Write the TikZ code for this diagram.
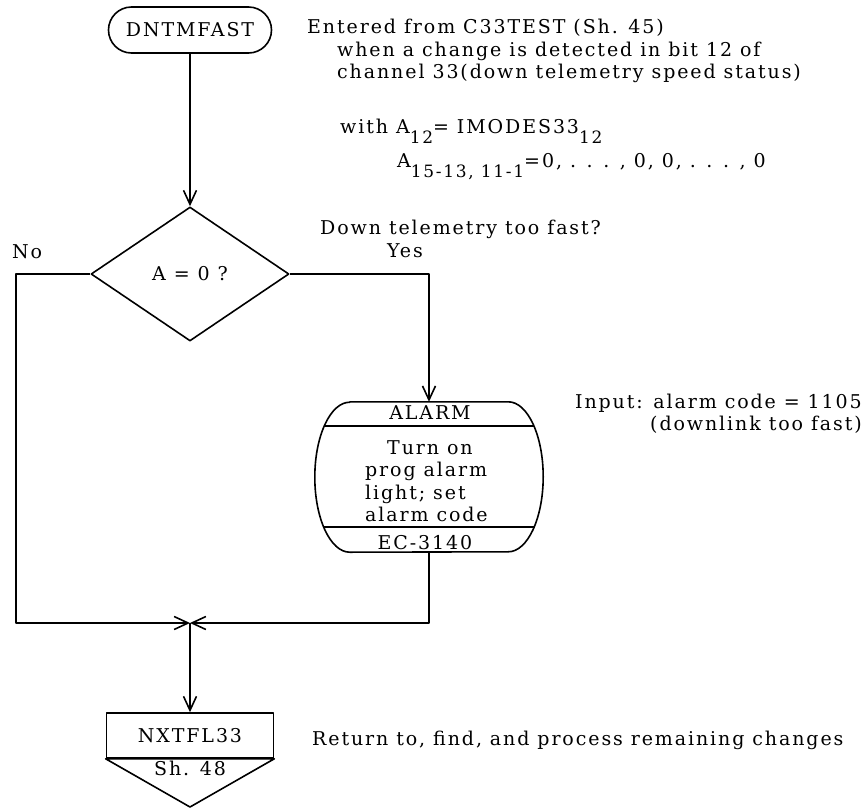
\documentclass[tikz,border=0pt]{standalone}
\usepackage{fontspec}
\setmainfont{DejaVu Serif}[LetterSpace=10]
\usetikzlibrary{arrows.meta,shapes.geometric,shapes.misc}

% lowered subscript set nearly at full size, as in the typed original
\newcommand\lowsub[1]{\raisebox{-10pt}{\fontsize{17}{17}\selectfont #1}}

\tikzset{
  every node/.style={font=\fontsize{19}{22.5}\selectfont, inner sep=0pt},
  line/.style={line width=1.6pt},
  arr/.style={line, -{Straight Barb[length=14pt,width=13pt]}},
  txt/.style={anchor=base west},
  txtr/.style={anchor=base east},
}

\begin{document}
\begin{tikzpicture}[x=1pt,y=1pt,line join=round]
\useasboundingbox[fill=white] (0,0) rectangle (868,-809);

% ---- flowchart boxes ----
\node[draw, line, rounded rectangle, minimum width=163, minimum height=46] (start) at (190,-30) {DNTMFAST};
\node[draw, line, diamond, minimum width=198, minimum height=134] (dec) at (190,-274) {A = 0 ?};

% alarm routine box: straight top and bottom with elliptical ends
\node[minimum width=228, minimum height=150] (alarm) at (429,-477) {};
\begin{scope}
  \clip ([xshift=35]alarm.north west) -- ([xshift=-35]alarm.north east)
        arc[start angle=90, end angle=-90, x radius=35, y radius=75]
        -- ([xshift=35]alarm.south west)
        arc[start angle=270, end angle=90, x radius=35, y radius=75] -- cycle;
  \draw[line] ([yshift=-24]alarm.north west) -- ([yshift=-24]alarm.north east);
  \draw[line] ([yshift=25]alarm.south west) -- ([yshift=25]alarm.south east);
\end{scope}
\draw[line] ([xshift=35]alarm.north west) -- ([xshift=-35]alarm.north east)
      arc[start angle=90, end angle=-90, x radius=35, y radius=75]
      -- ([xshift=35]alarm.south west)
      arc[start angle=270, end angle=90, x radius=35, y radius=75] -- cycle;
\node (alarmtitle) at (430,-413) {ALARM};
\node[anchor=north west, align=left] (alarmbody) at (365,-440)
  {\hspace*{22pt}Turn on\\prog alarm\\light; set\\alarm code};
\node (alarmref) at (425,-543) {EC-3140};

% off-page connector
\node[draw, line, minimum width=167, minimum height=45] (exit) at (190,-735.5) {NXTFL33};
\coordinate (exittip) at (190,-807);
\draw[line] (exit.south west) -- (exit.south east) -- (exittip) -- cycle;
\node (exitref) at (190,-768) {Sh. 48};

% ---- connectors ----
\coordinate (m) at (190,-623);
\coordinate (lowleft) at (16,-623);
\draw[arr] (start.south) -- (dec.north);
\draw[arr] (dec.east) -| (alarm.north);
\draw[arr] (dec.west) -| (lowleft) -- (m);
\draw[arr] (alarm.south) |- (m);
\draw[arr] (m) -- (exit.north);

% ---- annotations ----
\node[txt] (e1) at (307,-33) {Entered from C33TEST (Sh. 45)};
\node[txt] (e2) at (337,-56) {when a change is detected in bit 12 of};
\node[txt] (e3) at (337,-78) {channel 33(down telemetry speed status)};
\node[txt] (e4) at (340,-133) {with A\lowsub{12}= IMODES33\lowsub{12}};
\node[txt] (e5) at (397,-167) {A\lowsub{15-13, 11-1}=0, . . . , 0, 0, . . . , 0};

\node[txt] (q) at (320,-234) {Down telemetry too fast?};
\node[txt] (yes) at (387,-257) {Yes};
\node[txt] (no) at (12,-258) {No};

\node[txtr] (in1) at (862,-408) {Input: alarm code = 1105};
\node[txtr] (in2) at (862,-430) {(downlink too fast)};

\node[txt] (ret) at (312,-745) {Return to, find, and process remaining changes};
\end{tikzpicture}
\end{document}
